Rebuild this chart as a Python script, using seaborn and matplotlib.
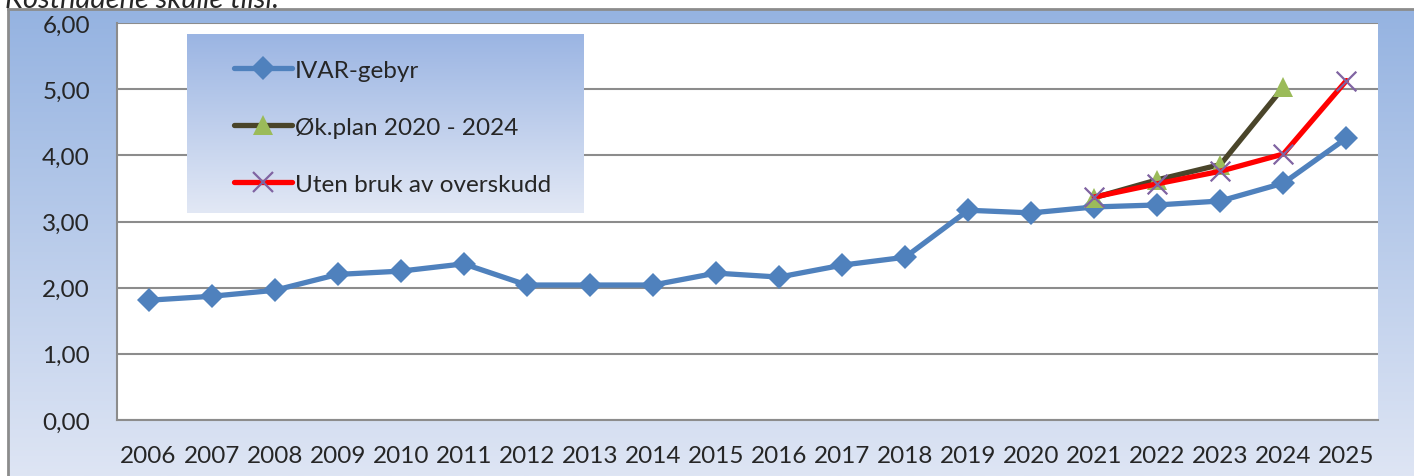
import numpy as np
import pandas as pd
import matplotlib.pyplot as plt
import matplotlib.colors as mcolors
from matplotlib.ticker import FixedLocator, FuncFormatter
from matplotlib.lines import Line2D
import seaborn as sns

# data
years = list(range(2006, 2026))
ivar = [1.81, 1.87, 1.96, 2.20, 2.25, 2.36, 2.04, 2.04, 2.04, 2.22,
        2.16, 2.34, 2.46, 3.17, 3.13, 3.22, 3.25, 3.31, 3.58, 4.26]
plan_years = [2021, 2022, 2023, 2024]
plan = [3.36, 3.63, 3.86, 5.03]
uten_years = [2021, 2022, 2023, 2024, 2025]
uten = [3.37, 3.57, 3.76, 4.02, 5.13]
labels = ["IVAR-gebyr", "Øk.plan 2020 - 2024", "Uten bruk av overskudd"]

sns.set_style("white")
plt.rcParams['font.family'] = ['Lato', 'DejaVu Sans']

W, H = 1414, 477
fig = plt.figure(figsize=(W / 100, H / 100), dpi=100)

def gradient_axes(rect, top, bottom, zorder):
    a = fig.add_axes(rect, zorder=zorder)
    cmap = mcolors.LinearSegmentedColormap.from_list("g", [top, bottom])
    a.imshow(np.linspace(0, 1, 256).reshape(-1, 1), aspect="auto", cmap=cmap,
             extent=[0, 1, 0, 1], origin="upper")
    a.set_xticks([])
    a.set_yticks([])
    return a

# chart area background
bg = gradient_axes([8 / W, 0, 1 - 8 / W, (H - 10) / H], "#95b3e1", "#dee5f4", 0)
for s in ["right", "bottom"]:
    bg.spines[s].set_visible(False)
for s in ["left", "top"]:
    bg.spines[s].set_color("#8c8c8c")
    bg.spines[s].set_linewidth(2)

# caption from the surrounding page, cut by the top edge as in the original
fig.text(5 / W, 1 - 8 / H, "Kostnadene skulle tilsi.", fontsize=21, style="italic",
         va="baseline", ha="left")

ax = fig.add_axes([117 / W, (H - 421) / H, (1378 - 117) / W, (421 - 24) / H], zorder=1)
ax.set_facecolor("white")

df_ivar = pd.DataFrame({"year": years, "value": ivar})
df_plan = pd.DataFrame({"year": plan_years, "value": plan})
df_uten = pd.DataFrame({"year": uten_years, "value": uten})

blue, olive, tri, red, purple = "#4f81bd", "#4a452a", "#9bbb59", "#ff0000", "#8064a2"
fs = 17.5

sns.lineplot(data=df_ivar, x="year", y="value", ax=ax, color=blue, lw=3.8,
             marker="D", markersize=12, markeredgewidth=0, zorder=3)
sns.lineplot(data=df_plan, x="year", y="value", ax=ax, color=olive, lw=3.8,
             marker="^", markersize=14, markerfacecolor=tri, markeredgewidth=0, zorder=4)
sns.lineplot(data=df_uten, x="year", y="value", ax=ax, color=red, lw=3.8, zorder=5)
sns.scatterplot(data=df_uten, x="year", y="value", ax=ax, marker="x", s=200,
                color=purple, linewidth=1.6, zorder=6)

ax.set_xlim(2005.5, 2025.5)
ax.set_ylim(0, 6)
ax.set_xlabel("")
ax.set_ylabel("")
ax.set_xticks(years)
ax.set_xticklabels([str(y) for y in years], fontsize=fs)
ax.xaxis.set_minor_locator(FixedLocator(np.arange(2005.5, 2026, 1)))
ax.tick_params(axis="x", which="major", length=0, pad=18)
ax.tick_params(axis="x", which="minor", length=6, width=1.5, color="#8c8c8c", direction="out")
ax.set_yticks(np.arange(0, 7, 1))
ax.yaxis.set_major_formatter(FuncFormatter(lambda v, p: f"{v:.2f}".replace(".", ",")))
ax.tick_params(axis="y", which="major", length=6, width=1.5, color="#8c8c8c",
               direction="out", labelsize=fs, pad=13.5)
ax.grid(axis="y", color="#8c8c8c", lw=1.5)
ax.grid(axis="x", visible=False)
ax.set_axisbelow(True)
for s in ["top", "right"]:
    ax.spines[s].set_visible(False)
for s in ["left", "bottom"]:
    ax.spines[s].set_color("#8c8c8c")
    ax.spines[s].set_linewidth(1.5)
if ax.get_legend():
    ax.get_legend().remove()

# legend box with gradient fill
lax = gradient_axes([187 / W, (H - 214) / H, 397 / W, 179 / H], "#9bb5e3", "#e2e8f5", 2)
for s in lax.spines.values():
    s.set_visible(False)
handles = [
    Line2D([], [], color=blue, lw=3.8, marker="D", markersize=12, markeredgewidth=0),
    Line2D([], [], color=olive, lw=3.8, marker="^", markersize=14,
           markerfacecolor=tri, markeredgewidth=0),
    Line2D([], [], color=red, lw=3.8, marker="x", markersize=14,
           markeredgecolor=purple, markeredgewidth=1.6),
]
lax.legend(handles, labels, loc="center left", bbox_to_anchor=(0.095, 0.48), frameon=False,
           fontsize=fs, handlelength=2.35, handletextpad=0.15, labelspacing=1.48,
           borderaxespad=0)

fig.savefig("out.png", dpi=100)
